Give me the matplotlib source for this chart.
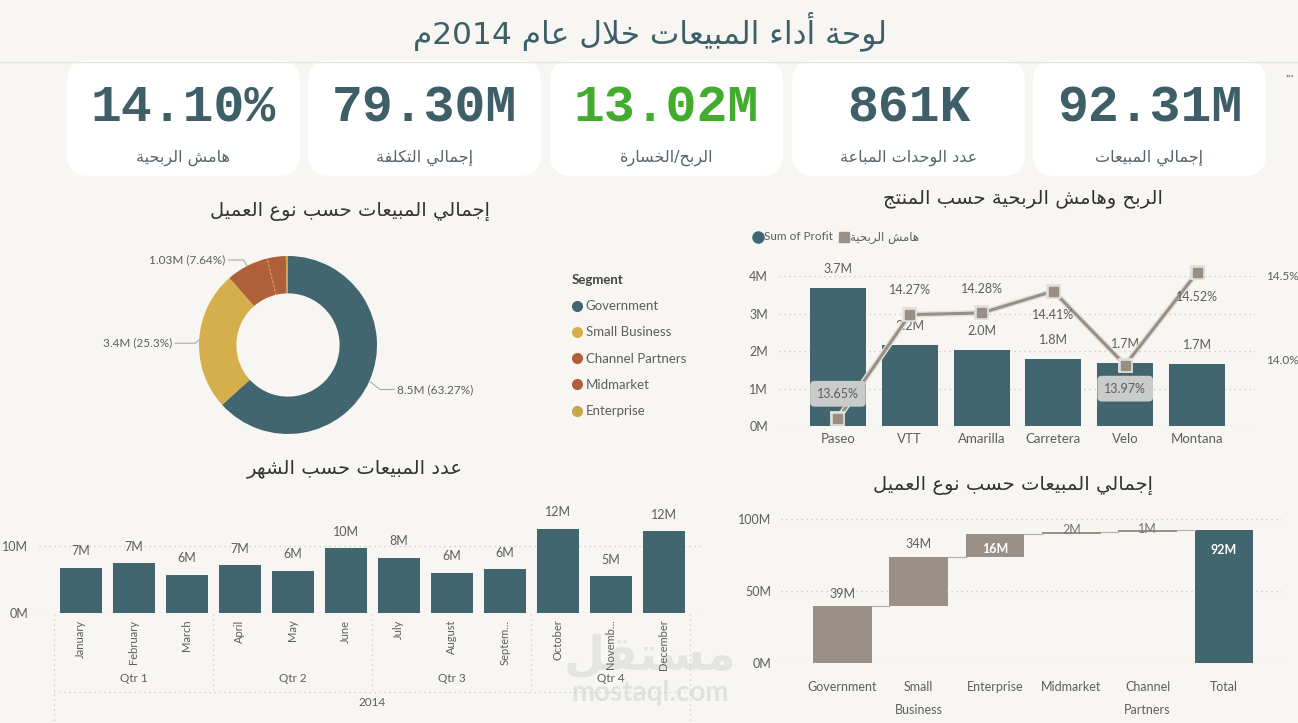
import re
import matplotlib
matplotlib.use('Agg')
import matplotlib.pyplot as plt
import matplotlib.patheffects as pe
import matplotlib.transforms as mtransforms
from matplotlib.patches import FancyBboxPatch
from matplotlib.lines import Line2D
import numpy as np

# ---------------- data ----------------
title_text = 'لوحة أداء المبيعات خلال عام 2014م'

kpi_values = ['14.10%', '79.30M', '13.02M', '861K', '92.31M']
kpi_labels = ['هامش الربحية', 'إجمالي التكلفة', 'الربح/الخسارة', 'عدد الوحدات المباعة', 'إجمالي المبيعات']
kpi_colors = ['#3F5F68', '#3F5F68', '#43AC2F', '#3F5F68', '#3F5F68']

donut_title = 'إجمالي المبيعات حسب نوع العميل'
segments = ['Government', 'Small Business', 'Channel Partners', 'Midmarket', 'Enterprise']
segment_values = [8.50, 3.40, 1.026, 0.455, 0.053]
segment_labels = ['8.5M (63.27%)', '3.4M (25.3%)', '1.03M (7.64%)', '', '']

combo_title = 'الربح وهامش الربحية حسب المنتج'
products = ['Paseo', 'VTT', 'Amarilla', 'Carretera', 'Velo', 'Montana']
profit_m = [3.68, 2.16, 2.03, 1.79, 1.68, 1.66]
margin_pct = [13.65, 14.27, 14.28, 14.41, 13.97, 14.52]
profit_legend = 'Sum of Profit'
margin_legend = 'هامش الربحية'

month_title = 'عدد المبيعات حسب الشهر'
month_labels = ['January', 'February', 'March', 'April', 'May', 'June', 'July',
                'August', 'Septem...', 'October', 'Novemb...', 'December']
month_sales_m = [6.67, 7.37, 5.63, 7.07, 6.27, 9.60, 8.16, 5.92, 6.45, 12.49, 5.43, 12.15]
quarter_labels = ['Qtr 1', 'Qtr 2', 'Qtr 3', 'Qtr 4']
year_label = '2014'

wf_title = 'إجمالي المبيعات حسب نوع العميل'
wf_categories = ['Government', 'Small\nBusiness', 'Enterprise', 'Midmarket', 'Channel\nPartners']
wf_values = [39.47, 34.39, 15.63, 1.93, 0.89]
wf_total_label = 'Total'

# ---------------- arabic shaping (presentation forms + visual order) ----------------
F4 = {'ب': 0xFE8F, 'ت': 0xFE95, 'ث': 0xFE99, 'ج': 0xFE9D, 'ح': 0xFEA1, 'خ': 0xFEA5,
      'س': 0xFEB1, 'ش': 0xFEB5, 'ص': 0xFEB9, 'ض': 0xFEBD, 'ط': 0xFEC1, 'ظ': 0xFEC5,
      'ع': 0xFEC9, 'غ': 0xFECD, 'ف': 0xFED1, 'ق': 0xFED5, 'ك': 0xFED9, 'ل': 0xFEDD,
      'م': 0xFEE1, 'ن': 0xFEE5, 'ه': 0xFEE9, 'ي': 0xFEF1, 'ئ': 0xFE89}
F2 = {'آ': 0xFE81, 'أ': 0xFE83, 'ؤ': 0xFE85, 'إ': 0xFE87, 'ا': 0xFE8D, 'ة': 0xFE93,
      'د': 0xFEA9, 'ذ': 0xFEAB, 'ر': 0xFEAD, 'ز': 0xFEAF, 'و': 0xFEED, 'ى': 0xFEEF}
F1 = {'ء': 0xFE80}
LA = {'آ': 0xFEF5, 'أ': 0xFEF7, 'إ': 0xFEF9, 'ا': 0xFEFB}


def shape(s):
    out = []
    i, n = 0, len(s)
    while i < n:
        c = s[i]
        prev = s[i - 1] if i > 0 else ''
        jp = prev in F4
        if c == 'ل' and i + 1 < n and s[i + 1] in LA:
            b = LA[s[i + 1]]
            out.append(chr(b + 1 if jp else b))
            i += 2
            continue
        nxt = s[i + 1] if i + 1 < n else ''
        if c in F4:
            b = F4[c]
            jn = nxt in F4 or nxt in F2
            if jp and jn:
                f = b + 3
            elif jp:
                f = b + 1
            elif jn:
                f = b + 2
            else:
                f = b
            out.append(chr(f))
        elif c in F2:
            out.append(chr(F2[c] + 1 if jp else F2[c]))
        elif c in F1:
            out.append(chr(F1[c]))
        else:
            out.append(c)
        i += 1
    return ''.join(out)


def ar(s):
    sh = shape(s)
    toks = re.findall(r'[0-9A-Za-z.%]+|[^0-9A-Za-z.%]+', sh)
    res = []
    for t in reversed(toks):
        res.append(t if re.match(r'[0-9A-Za-z]', t) else t[::-1])
    return ''.join(res)


# ---------------- style ----------------
plt.rcParams['font.family'] = ['Lato', 'DejaVu Sans']
BG = '#F7F6F2'
TEAL = '#42666F'
TAUPE = '#9B9087'
GOLD = '#D4AF4B'
ORANGE = '#B05F3B'
TXT = '#5E5E5E'
GRID = '#C6C6C6'
W, H = 1298, 723

fig = plt.figure(figsize=(W / 100, H / 100), dpi=100, facecolor=BG)


def rect(x0, y0, x1, y1):
    return [x0 / W, 1 - y1 / H, (x1 - x0) / W, (y1 - y0) / H]


bg = fig.add_axes([0, 0, 1, 1], zorder=-5)
bg.set_xlim(0, W)
bg.set_ylim(H, 0)
bg.axis('off')
bg.set_facecolor(BG)

# header
bg.text(650, 31, ar(title_text), ha='center', va='center', fontsize=22.5,
        color='#3F5F68', family=['DejaVu Sans'])
bg.plot([0, W], [62, 62], color='#E3E3DF', lw=1)
bg.text(1290, 76, '•••', ha='center', va='center', fontsize=3.5, color='#888888')

# KPI cards
card_x = [(67, 300), (308, 541), (550, 783), (792, 1025), (1033, 1266)]
for (x0, x1), val, lab, col in zip(card_x, kpi_values, kpi_labels, kpi_colors):
    bg.add_patch(FancyBboxPatch((x0, 60), x1 - x0, 116,
                                boxstyle='round,pad=0,rounding_size=22',
                                facecolor='white', edgecolor='none'))
    cx = (x0 + x1) / 2
    bg.text(cx, 108, val, ha='center', va='center', fontsize=37, fontweight='bold',
            color=col, family=['Liberation Mono'])
    bg.text(cx, 158, ar(lab), ha='center', va='center', fontsize=11.5,
            color='#56646A', family=['DejaVu Sans'])

# chart titles
bg.text(350, 211, ar(donut_title), ha='center', va='center', fontsize=14, color='#333333',
        family=['DejaVu Sans'])
bg.text(1023, 199, ar(combo_title), ha='center', va='center', fontsize=14, color='#333333',
        family=['DejaVu Sans'])
bg.text(355, 469, ar(month_title), ha='center', va='center', fontsize=14, color='#333333',
        family=['DejaVu Sans'])
bg.text(1013, 485, ar(wf_title), ha='center', va='center', fontsize=14, color='#333333',
        family=['DejaVu Sans'])

# watermark
bg.text(650, 657, ar('مستقل'), ha='center', va='center', fontsize=34, fontweight='bold',
        color='#E4E4E1', family=['DejaVu Sans'], zorder=-1)
bg.text(650, 693, 'mostaql.com', ha='center', va='center', fontsize=20, fontweight='bold',
        color='#E1E1DE', zorder=-1)


def style_axis(ax):
    ax.set_facecolor('none')
    for s in ax.spines.values():
        s.set_visible(False)
    ax.tick_params(length=0, colors=TXT, labelsize=9)
    ax.yaxis.grid(True, color=GRID, linestyle=(0, (1, 3)), linewidth=0.9)
    ax.set_axisbelow(True)


# ---------------- donut ----------------
R = 89.0
ax_d = fig.add_axes(rect(288 - 100, 345 - 100, 288 + 100, 345 + 100))
ax_d.set_facecolor('none')
seg_colors = [TEAL, GOLD, ORANGE, ORANGE, '#C9A64E']
ax_d.pie(segment_values, colors=seg_colors, startangle=90, counterclock=False,
         radius=1.0, wedgeprops=dict(width=0.42, edgecolor='none'))
ax_d.set_xlim(-100 / R, 100 / R)
ax_d.set_ylim(-100 / R, 100 / R)
ax_d.set_aspect('equal')
ax_d.axis('off')

tot = float(np.sum(segment_values))
cum = np.cumsum([0] + list(segment_values)) / tot * 360.0
# boundary between Channel Partners and Midmarket (dotted)
b = np.deg2rad(cum[3])
ax_d.plot([0.58 * np.sin(b), np.sin(b)], [0.58 * np.cos(b), np.cos(b)],
          color=GOLD, lw=1.0, linestyle=(0, (1, 2)))

label_anchor = {0: (1.22, -0.50, 'left'), 1: (-1.30, 0.02, 'right'), 2: (-0.70, 0.955, 'right')}
for i, lab in enumerate(segment_labels):
    if not lab:
        continue
    mid = np.deg2rad((cum[i] + cum[i + 1]) / 2)
    ex, ey = np.sin(mid), np.cos(mid)
    tx, ty, ha = label_anchor[i]
    if ha == 'left':
        pts = [(ex, ey), (ex + 0.12, ty), (tx - 0.03, ty)]
    else:
        pts = [(ex, ey), (ex - 0.04, ty), (tx + 0.03, ty)]
    ax_d.plot([p[0] for p in pts], [p[1] for p in pts], color='#AAAAAA', lw=0.8,
              clip_on=False)
    ax_d.text(tx, ty, lab, ha=ha, va='center', fontsize=8.5, color=TXT, clip_on=False)

handles = [Line2D([0], [0], marker='o', linestyle='none', markersize=8,
                  markerfacecolor=c, markeredgecolor='none') for c in seg_colors]
leg = fig.legend(handles, segments, loc='upper left', bbox_to_anchor=(572 / W, 1 - 274 / H),
                 frameon=False, title='Segment', alignment='left', fontsize=9.5,
                 labelspacing=1.08, handlelength=0.7, handletextpad=0.35, borderpad=0,
                 borderaxespad=0, title_fontproperties={'weight': 'bold', 'size': 9.5})
leg.get_title().set_color('#444444')
for t in leg.get_texts():
    t.set_color(TXT)

# ---------------- combo chart ----------------
ax_c = fig.add_axes(rect(779, 262, 1254.5, 426))
style_axis(ax_c)
x = np.arange(len(products))
ax_c.bar(x, profit_m, width=0.78, color=TEAL, zorder=2)
ax_c.set_xlim(-0.82, 5.80)
ax_c.set_ylim(0, 164 / 37.5)
ax_c.set_yticks([0, 1, 2, 3, 4])
ax_c.set_yticklabels([f'{v}M' for v in [0, 1, 2, 3, 4]])
ax_c.set_xticks(x)
ax_c.set_xticklabels(products, fontsize=9.5)
ax_c.tick_params(axis='x', pad=5)
ax_c.tick_params(axis='y', pad=8)
for xi, v in zip(x, profit_m):
    ax_c.annotate(f'{v:.1f}M', (xi, v), xytext=(0, 13.5), textcoords='offset points',
                  ha='center', va='center', fontsize=9, color=TXT)

ax_r = ax_c.twinx()
ax_r.set_facecolor('none')
for s in ax_r.spines.values():
    s.set_visible(False)
ax_r.set_ylim(13.6071, 14.5833)
ax_r.set_yticks([14.0, 14.5])
ax_r.set_yticklabels(['14.0%', '14.5%'])
ax_r.tick_params(length=0, colors=TXT, labelsize=8.5, pad=8)
ax_r.plot(x, margin_pct, color='#9A8F86', lw=2.2, marker='s', markersize=6.5,
          zorder=3, path_effects=[pe.Stroke(linewidth=4.2, foreground='#E2E0DB'), pe.Normal()])
margin_offsets = [18, 17.5, 17.5, -17.5, -17, -17.5]   # points (positive = above)
margin_boxed = [True, False, False, False, True, False]
for xi, v, off, boxed in zip(x, margin_pct, margin_offsets, margin_boxed):
    kw = {}
    if boxed:
        kw['bbox'] = dict(boxstyle='round,pad=0.55,rounding_size=0.35',
                          facecolor='#C9CCCA', edgecolor='none')
    ax_r.annotate(f'{v:.2f}%', (xi, v), xytext=(0, off), textcoords='offset points',
                  ha='center', va='center', fontsize=9, color=TXT, zorder=5, **kw)

# legend for combo
bg.plot([758], [237], marker='o', markersize=8, color=TEAL, linestyle='none')
bg.text(764, 237, profit_legend, ha='left', va='center', fontsize=8.5, color=TXT)
bg.plot([843.5], [237], marker='s', markersize=7.5, color=TAUPE, linestyle='none')
bg.text(850, 237, ar(margin_legend), ha='left', va='center', fontsize=8.5, color=TXT,
        family=['DejaVu Sans'])

# ---------------- monthly bars ----------------
top_m, bot_m = 500, 612.7
ax_m = fig.add_axes(rect(39, top_m, 702.5, bot_m))
style_axis(ax_m)
xm = np.arange(len(month_labels))
ax_m.bar(xm, month_sales_m, width=0.79, color=TEAL, zorder=2)
ax_m.set_xlim(-0.79, 11.73)
ax_m.set_ylim(0, (bot_m - top_m) / 6.7)
ax_m.set_yticks([0, 10])
ax_m.set_yticklabels(['0M', '10M'])
ax_m.tick_params(axis='y', pad=8)
ax_m.set_xticks(xm)
ax_m.set_xticklabels(month_labels, rotation=90, fontsize=8, va='top')
ax_m.tick_params(axis='x', pad=5)
for xi, v in zip(xm, month_sales_m):
    ax_m.annotate(f'{v:.0f}M', (xi, v), xytext=(0, 12), textcoords='offset points',
                  ha='center', va='center', fontsize=9, color=TXT)


def ay(px):
    return (bot_m - px) / (bot_m - top_m)


tr = mtransforms.blended_transform_factory(ax_m.transData, ax_m.transAxes)
dot = dict(color='#C8C8C8', lw=0.9, linestyle=(0, (1, 3)), transform=tr, clip_on=False)
n_q = len(quarter_labels)
for q in range(n_q + 1):
    xb = q * 3 - 0.5
    yend = 723 if q in (0, n_q) else 690
    ax_m.plot([xb, xb], [ay(614), ay(yend)], **dot)
ax_m.plot([-0.5, 11.5], [ay(692), ay(692)], **dot)
for q, ql in enumerate(quarter_labels):
    ax_m.text(q * 3 + 1, ay(678), ql, ha='center', va='center', fontsize=8.5, color=TXT,
              transform=tr)
ax_m.text(5.5, ay(703), year_label, ha='center', va='center', fontsize=8.5, color=TXT,
          transform=tr)

# ---------------- waterfall ----------------
top_w, bot_w = 505, 662.7
ax_w = fig.add_axes(rect(780.8, top_w, 1282, bot_w))
style_axis(ax_w)
n_wf = len(wf_values)
starts = np.concatenate([[0], np.cumsum(wf_values)[:-1]])
total = float(np.sum(wf_values))
xw = np.arange(n_wf + 1)
ax_w.bar(xw[:-1], wf_values, bottom=starts, width=0.77, color=TAUPE, zorder=2)
ax_w.bar([xw[-1]], [total], width=0.77, color=TEAL, zorder=2)
ends = starts + np.array(wf_values)
for i in range(n_wf):
    ax_w.plot([i + 0.385, i + 1 - 0.385], [ends[i], ends[i]], color='#B5B5B5', lw=0.9, zorder=3)
ax_w.set_xlim(-0.807, 5.761)
ax_w.set_ylim(0, (bot_w - top_w) / 1.434)
ax_w.set_yticks([0, 50, 100])
ax_w.set_yticklabels(['0M', '50M', '100M'])
ax_w.tick_params(axis='y', pad=7)
ax_w.set_xticks(xw)
ax_w.set_xticklabels(wf_categories + [wf_total_label], fontsize=9, linespacing=2.1, va='top')
ax_w.tick_params(axis='x', pad=13)
wf_mode = ['above', 'above', 'inside', 'mid', 'mid']
for i, (s0, v, m) in enumerate(zip(starts, wf_values, wf_mode)):
    if m == 'above':
        ax_w.annotate(f'{v:.0f}M', (i, s0 + v), xytext=(0, 9), textcoords='offset points',
                      ha='center', va='center', fontsize=9, color=TXT, zorder=4)
    elif m == 'inside':
        ax_w.annotate(f'{v:.0f}M', (i, s0 + v / 2), xytext=(0, -2.5), textcoords='offset points',
                      ha='center', va='center', fontsize=9, color='white', fontweight='bold', zorder=4)
    else:
        ax_w.annotate(f'{v:.0f}M', (i, s0 + v), xytext=(0, 1), textcoords='offset points',
                      ha='center', va='center', fontsize=9, color='#777777', zorder=4)
ax_w.annotate(f'{total:.0f}M', (xw[-1], total), xytext=(0, -14.5), textcoords='offset points',
              ha='center', va='center', fontsize=9, color='white', fontweight='bold', zorder=4)

fig.savefig('out.png', dpi=100, facecolor=BG)
